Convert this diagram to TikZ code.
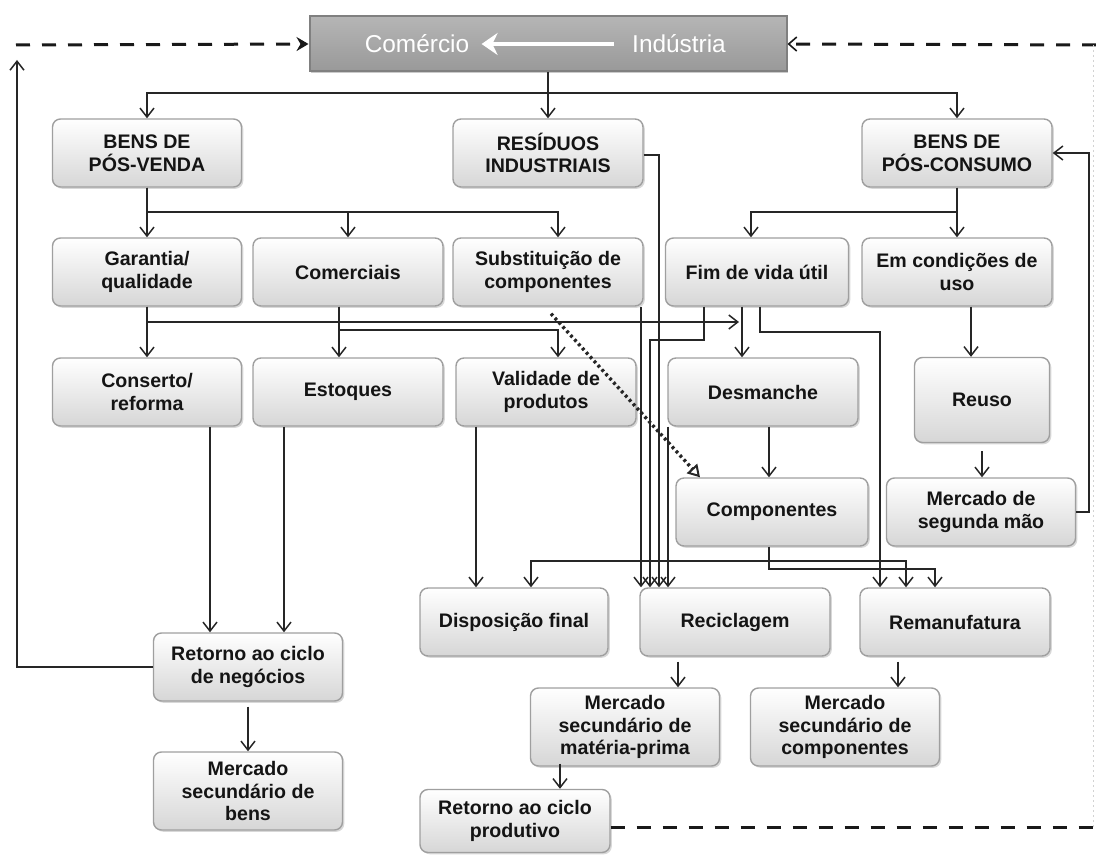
\documentclass[tikz,border=0pt]{standalone}
\usepackage{fontspec}
\setmainfont{Liberation Sans}
\usetikzlibrary{arrows.meta,calc,shadows}

\begin{document}
\begin{tikzpicture}[x=0.5pt,y=-0.5pt,
  box/.style={draw=gray!75, line width=0.7pt, rounded corners=4pt,
    top color=white, bottom color=gray!32, align=center, inner sep=1pt,
    font=\bfseries\fontsize{9.8}{11.4}\selectfont, text=black!92,
    drop shadow={shadow xshift=0.9pt, shadow yshift=-0.9pt, fill=gray!60, opacity=0.5}},
  sz/.style 2 args={minimum width=#1*0.5pt, minimum height=#2*0.5pt},
  topbar/.style={draw=black!50, line width=1pt, top color=gray!58, bottom color=gray!80,
    drop shadow={shadow xshift=0.8pt, shadow yshift=-0.8pt, fill=gray!70, opacity=0.6}},
  bartext/.style={text=white, inner sep=0pt, font=\fontsize{12.2}{14}\selectfont},
  whitearr/.style={draw=white, line width=2.4pt, -{Stealth[length=8pt,width=11pt]}},
  arr/.style={draw=black!85, line width=0.75pt, -{Straight Barb[length=4.5pt,width=7pt]}},
  arrboth/.style={draw=black!85, line width=0.75pt, {Straight Barb[length=4.5pt,width=7pt]}-{Straight Barb[length=4.5pt,width=7pt]}},
  dotarr/.style={draw=black!85, line width=1.7pt, dash pattern=on 1.4pt off 1.5pt,
    -{Triangle[open,length=6pt,width=7pt,line width=1pt]}},
  dashline/.style={draw=black!90, line width=1.5pt, dash pattern=on 7pt off 6pt}
]
\useasboundingbox (0,0) rectangle (1096,855);

% ---------- top bar: trade <- industry ----------
\node[topbar, minimum width=477*0.5pt, minimum height=55*0.5pt] (bar) at (548,44) {};
\node[bartext] (comm) at (417,44) {Comércio};
\node[bartext] (indu) at (679,44) {Indústria};
\draw[whitearr] ($(indu.west)+(-18,0)$) -- ($(comm.east)+(12,0)$);

% ---------- boxes ----------
\node[box, sz={189}{68}] (posvenda)    at (147,153) {BENS DE\\PÓS-VENDA};
\node[box, sz={190}{68}] (residuos)    at (548,153) {RESÍDUOS\\INDUSTRIAIS};
\node[box, sz={190}{68}] (posconsumo)  at (957,153) {BENS DE\\PÓS-CONSUMO};

\node[box, sz={189}{68}] (garantia)    at (147,272) {Garantia/\\qualidade};
\node[box, sz={190}{68}] (comerciais)  at (348,272) {Comerciais};
\node[box, sz={190}{68}] (substituicao) at (548,272) {Substituição de\\componentes};
\node[box, sz={183}{68}] (fimvida)     at (757,272) {Fim de vida útil};
\node[box, sz={190}{68}] (emcond)      at (957,272) {Em condições de\\uso};

\node[box, sz={189}{68}] (conserto)    at (147,392) {Conserto/\\reforma};
\node[box, sz={190}{68}] (estoques)    at (348,392) {Estoques};
\node[box, sz={180}{68}] (validade)    at (546,392) {Validade de\\produtos};
\node[box, sz={190}{68}] (desmanche)   at (763,392) {Desmanche};
\node[box, sz={135}{85}] (reuso)       at (982,400) {Reuso};

\node[box, sz={192}{68}] (componentes) at (772,512) {Componentes};
\node[box, sz={189}{68}] (segundamao)  at (981,512) {Mercado de\\segunda mão};

\node[box, sz={188}{68}] (disposicao)  at (514,622) {Disposição final};
\node[box, sz={190}{68}] (reciclagem)  at (735,622) {Reciclagem};
\node[box, sz={190}{68}] (remanufatura) at (955,622) {Remanufatura};

\node[box, sz={189}{68}] (retnegocios) at (248,667) {Retorno ao ciclo\\de negócios};
\node[box, sz={189}{78}] (mercbens)    at (248,791) {Mercado\\secundário de\\bens};
\node[box, sz={189}{78}] (mercmp)      at (625,727) {Mercado\\secundário de\\matéria-prima};
\node[box, sz={189}{78}] (merccomp)    at (845,727) {Mercado\\secundário de\\componentes};
\node[box, sz={190}{63}] (retprod)     at (515,821) {Retorno ao ciclo\\produtivo};

% ---------- free ends of the outer loops ----------
\coordinate (dashleft)  at (16,45);
\coordinate (dashright) at (1096,45);
\coordinate (dashbot)   at (1096,827);
\coordinate (loopleft)  at (17,60);

% ---------- outer dashed loop ----------
\draw[dashline, -{Stealth[length=6pt,width=7pt,inset=2pt]}] (dashleft) -- (bar.west);
\draw[dashline, -{Straight Barb[length=4pt,width=7pt,line width=0.8pt]}] (dashright) -- (bar.east);
\draw[dashline] (retprod.east |- dashbot) -- (dashbot);
\draw[gray!35, line width=0.5pt, dash pattern=on 1pt off 1.5pt] (1093,45) -- (1093,827);

% ---------- connectors ----------
% from the top bar
\draw[arr] (bar.south) |- (posvenda.north |- 0,93) -- (posvenda.north);
\draw[arr] (bar.south) -- (residuos.north);
\draw[arr] (bar.south) |- (posconsumo.north |- 0,93) -- (posconsumo.north);

% post-sale goods
\draw[arr] (posvenda.south) -- (garantia.north);
\draw[arr] (posvenda.south) |- (comerciais.north |- 0,212) -- (comerciais.north);
\draw[arr] (posvenda.south) |- (558,212) -- (substituicao.north -| 558,0);

% post-consumption goods
\draw[arr] (posconsumo.south) |- (751,212) -- (fimvida.north -| 751,0);
\draw[arr] (posconsumo.south) -- (emcond.north);

% second level
\draw[arr] (garantia.south) -- (conserto.north);
\draw[arr] (garantia.south) |- (739,322);
\draw[arr] (comerciais.south -| 339,0) -- (estoques.north -| 339,0);
\draw[arr] (comerciais.south -| 339,0) |- (558,330) -- (validade.north -| 558,0);
\draw[arr] (fimvida.south -| 742,0) -- (desmanche.north -| 742,0);
\draw[arr] (fimvida.south -| 760,0) |- (880,332) -- (remanufatura.north -| 880,0);
\draw[arr] (fimvida.south -| 704,0) |- (650,340) -- (reciclagem.north -| 650,0);
\draw[arr] (residuos.east |- 0,155) -| (reciclagem.north -| 659,0);
\draw[arr] (substituicao.south -| 641,0) -- (reciclagem.north -| 641,0);
\draw[arr] (desmanche.south -| 668,0) -- (reciclagem.north -| 668,0);
\draw[dotarr] (substituicao.south -| 551,0) ++(0,7) -- (componentes.north -| 700,0);
\draw[arr] (emcond.south -| 971,0) -- (reuso.north -| 971,0);

% third level
\draw[arr] (desmanche.south -| 769,0) -- (componentes.north -| 769,0);
\draw[arr] (reuso.south -| 982,0) ++(0,8) -- (segundamao.north -| 982,0);
\draw[arr] (segundamao.east) -- ++(13,0) |- (posconsumo.east);
\draw[arr] (componentes.south -| 769,0) |- (935,569) -- (remanufatura.north -| 935,0);
\draw[arrboth] (disposicao.north -| 531,0) |- (906,561) -- (remanufatura.north -| 906,0);
\draw[arr] (validade.south -| 476,0) -- (disposicao.north -| 476,0);

% markets and returns
\draw[arr] (reciclagem.south -| 678,0) ++(0,5) -- (mercmp.north -| 678,0);
\draw[arr] (remanufatura.south -| 898,0) ++(0,5) -- (merccomp.north -| 898,0);
\draw[arr] (mercmp.south -| 560,0) ++(0,-3) -- (retprod.north -| 560,0);
\draw[arr] (conserto.south -| 210,0) -- (retnegocios.north -| 210,0);
\draw[arr] (estoques.south -| 284,0) -- (retnegocios.north -| 284,0);
\draw[arr] (retnegocios.south) ++(0,5) -- (mercbens.north);
\draw[arr] (retnegocios.west) -| (loopleft);
\end{tikzpicture}
\end{document}
